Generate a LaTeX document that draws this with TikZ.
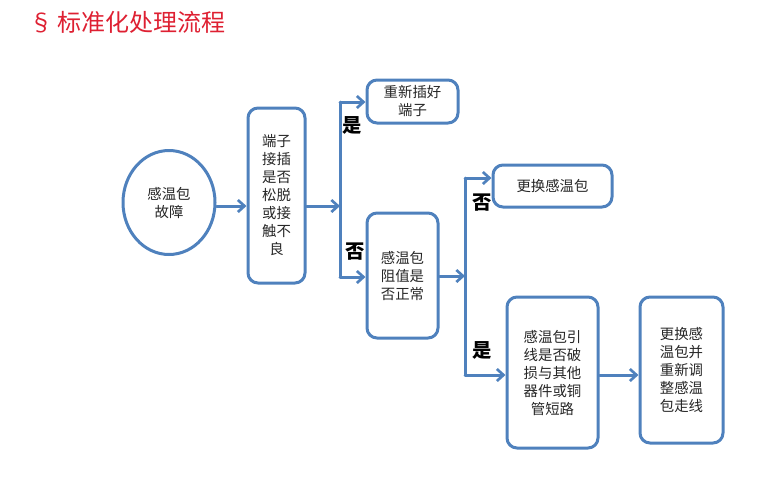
\documentclass[tikz,border=0pt]{standalone}
\usepackage{fontspec}
\setmainfont{Noto Sans CJK SC}
\usetikzlibrary{arrows.meta,shapes.geometric}
\definecolor{flowblue}{RGB}{79,129,189}
\definecolor{titlered}{RGB}{222,32,50}
\begin{document}
\begin{tikzpicture}[x=0.75pt, y=-0.75pt, line join=round, line cap=round,
	>={Straight Barb[length=5pt,width=9pt,line width=2pt]},
	box/.style={draw=flowblue, line width=2.25pt, rounded corners=7.5pt, align=center,
		font=\fontsize{10.8}{13.5}\selectfont, text=black!85, inner sep=0pt},
	link/.style={draw=flowblue, line width=2.25pt},
	yn/.style={font=\fontsize{14.5}{15}\selectfont\bfseries}]
	\useasboundingbox (0,0) rectangle (782,490);
	\node[titlered, anchor=west, font=\fontsize{18}{20}\selectfont] (title) at (25,22) {§\,标准化处理流程};
	\node[box, ellipse, rounded corners=0pt, minimum width=69pt, minimum height=78pt] (fault) at (169,202.5) {感温包\\故障};
	\node[box, minimum width=42.75pt, minimum height=131.25pt] (plug) at (276.5,195.5) {端子\\接插\\是否\\松脱\\或接\\触不\\良};
	\node[box, minimum width=68.25pt, minimum height=32.25pt] (replug) at (412.5,101.5) {重新插好\\端子};
	\node[box, minimum width=53.25pt, minimum height=93.75pt] (resist) at (402.5,275.5) {感温包\\阻值是\\否正常};
	\node[box, minimum width=89.25pt, minimum height=31.5pt] (swap) at (552.5,186) {更换感温包};
	\node[box, minimum width=68.25pt, minimum height=113.25pt] (wire) at (552.5,372.5) {感温包引\\线是否破\\损与其他\\器件或铜\\管短路};
	\node[box, minimum width=62.25pt, minimum height=109.5pt] (reroute) at (681.5,370) {更换感\\温包并\\重新调\\整感温\\包走线};
	\coordinate (s1) at (340,206);
	\coordinate (s1t) at (340,102);
	\coordinate (s1b) at (340,277);
	\coordinate (s2) at (465,276);
	\coordinate (s2t) at (465,178);
	\coordinate (s2b) at (465,375);
	\draw[link,->] (fault.east |- s1) -- (plug.west |- s1);
	\draw[link,->] (plug.east |- s1) -- (s1);
	\draw[link,->] (s1t) -- (s1t -| replug.west);
	\draw[link] (s1t) -- (s1b);
	\draw[link,->] (s1b) -- (s1b -| resist.west);
	\draw[link,->] (resist.east |- s2) -- (s2);
	\draw[link,->] (s2t) -- (s2t -| swap.west);
	\draw[link] (s2t) -- (s2b);
	\draw[link,->] (s2b) -- (s2b -| wire.west);
	\draw[link,->] (wire.east |- s2b) -- (reroute.west |- s2b);
	\node[yn] (yes1) at (352,125) {是};
	\node[yn] (no1) at (355,252) {否};
	\node[yn] (no2) at (482,203) {否};
	\node[yn] (yes2) at (482,350) {是};
\end{tikzpicture}
\end{document}
